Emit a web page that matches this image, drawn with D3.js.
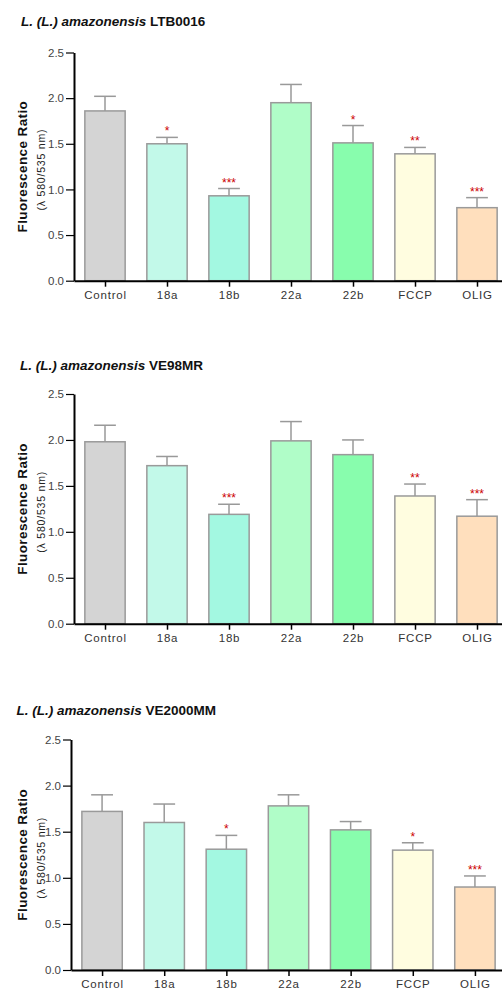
<!DOCTYPE html>
<html>
<head>
<meta charset="utf-8">
<script src="https://cdn.jsdelivr.net/npm/d3@7"></script>
<style>
  html, body { margin: 0; padding: 0; background: #fff; }
  svg { display: block; font-family: "Liberation Sans", Arial, sans-serif; }
</style>
</head>
<body>
<svg id="chart" width="502" height="989"></svg>
<script>
// ---- data ----
const categories = ["Control", "18a", "18b", "22a", "22b", "FCCP", "OLIG"];
const yTicks = [0, 0.5, 1.0, 1.5, 2.0, 2.5];
const barColors = ["#d4d4d4", "#c2f9e9", "#a3f8e1", "#b0fdc8", "#88fdad", "#fffde0", "#ffdfbd"];

const strainNames = ["LTB0016", "VE98MR", "VE2000MM"];

const ltbMeans = [1.86, 1.50, 0.93, 1.95, 1.51, 1.39, 0.80];
const ltbErrors = [0.16, 0.07, 0.08, 0.20, 0.19, 0.07, 0.11];
const ltbSig = ["", "*", "***", "", "*", "**", "***"];

const ve98Means = [1.98, 1.72, 1.19, 1.99, 1.84, 1.39, 1.17];
const ve98Errors = [0.18, 0.10, 0.11, 0.21, 0.16, 0.13, 0.18];
const ve98Sig = ["", "", "***", "", "", "**", "***"];

const ve2000Means = [1.72, 1.60, 1.31, 1.78, 1.52, 1.30, 0.90];
const ve2000Errors = [0.18, 0.20, 0.15, 0.12, 0.09, 0.08, 0.12];
const ve2000Sig = ["", "", "*", "", "", "*", "***"];

const yLabel1 = "Fluorescence Ratio";
const yLabel2 = "(λ 580/535 nm)";
const titleItalic = "L. (L.) amazonensis ";

// ---- layout (positions only) ----
const panels = [
  { name: strainNames[0], means: ltbMeans, errs: ltbErrors, sig: ltbSig,
    x0: 74, x1: 508, y0: 280.7, y1: 52.5, titleX: 21, titleY: 26 },
  { name: strainNames[1], means: ve98Means, errs: ve98Errors, sig: ve98Sig,
    x0: 74, x1: 508, y0: 623.7, y1: 394, titleX: 20, titleY: 369.5 },
  { name: strainNames[2], means: ve2000Means, errs: ve2000Errors, sig: ve2000Sig,
    x0: 71, x1: 506, y0: 970, y1: 739.5, titleX: 16.5, titleY: 714.5 }
];

const svg = d3.select("#chart");

panels.forEach(p => {
  const g = svg.append("g");
  const x = d3.scalePoint().domain(categories).range([p.x0, p.x1]).padding(0.5);
  const y = d3.scaleLinear().domain([0, 2.5]).range([p.y0, p.y1]);
  const bw = x.step() * 0.65;

  const rows = categories.map((c, i) => ({ c, m: p.means[i], e: p.errs[i], s: p.sig[i], col: barColors[i] }));

  // title
  const t = g.append("text")
    .attr("x", p.titleX).attr("y", p.titleY)
    .attr("font-size", 13.5).attr("font-weight", "bold").attr("fill", "#111");
  t.append("tspan").attr("font-style", "italic").text(titleItalic);
  t.append("tspan").text(p.name);

  // error bars (upward only)
  const eb = g.selectAll(".eb").data(rows).enter().append("g");
  eb.append("line")
    .attr("x1", d => x(d.c)).attr("x2", d => x(d.c))
    .attr("y1", d => y(d.m)).attr("y2", d => y(d.m + d.e))
    .attr("stroke", "#999").attr("stroke-width", 1.5);
  eb.append("line")
    .attr("x1", d => x(d.c) - bw * 0.27).attr("x2", d => x(d.c) + bw * 0.27)
    .attr("y1", d => y(d.m + d.e)).attr("y2", d => y(d.m + d.e))
    .attr("stroke", "#999").attr("stroke-width", 1.5);

  // bars
  g.selectAll(".bar").data(rows).enter().append("rect")
    .attr("x", d => x(d.c) - bw / 2)
    .attr("width", bw)
    .attr("y", d => y(d.m))
    .attr("height", d => y(0) - y(d.m))
    .attr("fill", d => d.col)
    .attr("stroke", "#9a9a9a").attr("stroke-width", 1.5);

  // significance stars
  g.selectAll(".sig").data(rows.filter(d => d.s)).enter().append("text")
    .attr("x", d => x(d.c)).attr("y", d => y(d.m + d.e) - 2)
    .attr("text-anchor", "middle")
    .attr("font-size", 12).attr("fill", "#cc0000")
    .text(d => d.s);

  // y axis
  const ya = g.append("g").attr("transform", `translate(${p.x0},0)`)
    .call(d3.axisLeft(y).tickValues(yTicks).tickFormat(d3.format(".1f")).tickSize(8).tickSizeOuter(0).tickPadding(2));
  ya.select(".domain").attr("stroke", "#000").attr("stroke-width", 2);
  ya.selectAll(".tick line").attr("stroke", "#000").attr("stroke-width", 1.2);
  ya.selectAll(".tick text").attr("fill", "#444").attr("font-size", 11.5)
    .attr("font-family", "Liberation Sans, Arial, sans-serif");

  // x axis
  const xa = g.append("g").attr("transform", `translate(0,${p.y0})`)
    .call(d3.axisBottom(x).tickSize(6).tickSizeOuter(0).tickPadding(4));
  xa.select(".domain").attr("stroke", "#000").attr("stroke-width", 2);
  xa.selectAll(".tick line").attr("stroke", "#000").attr("stroke-width", 1.5);
  xa.selectAll(".tick text").attr("fill", "#333").attr("font-size", 11.5)
    .attr("letter-spacing", 0.8)
    .attr("font-family", "Liberation Sans, Arial, sans-serif");

  // y label
  const cy = (p.y0 + p.y1) / 2;
  g.append("text")
    .attr("transform", `translate(22,${cy}) rotate(-90)`)
    .attr("text-anchor", "middle").attr("dominant-baseline", "central")
    .attr("font-size", 13.5).attr("font-weight", "bold").attr("fill", "#111")
    .attr("letter-spacing", 0.4)
    .text(yLabel1);
  g.append("text")
    .attr("transform", `translate(40.5,${cy + 3}) rotate(-90)`)
    .attr("text-anchor", "middle").attr("dominant-baseline", "central")
    .attr("font-size", 10.5).attr("fill", "#222")
    .attr("letter-spacing", 0.8)
    .text(yLabel2);
});
</script>
</body>
</html>
